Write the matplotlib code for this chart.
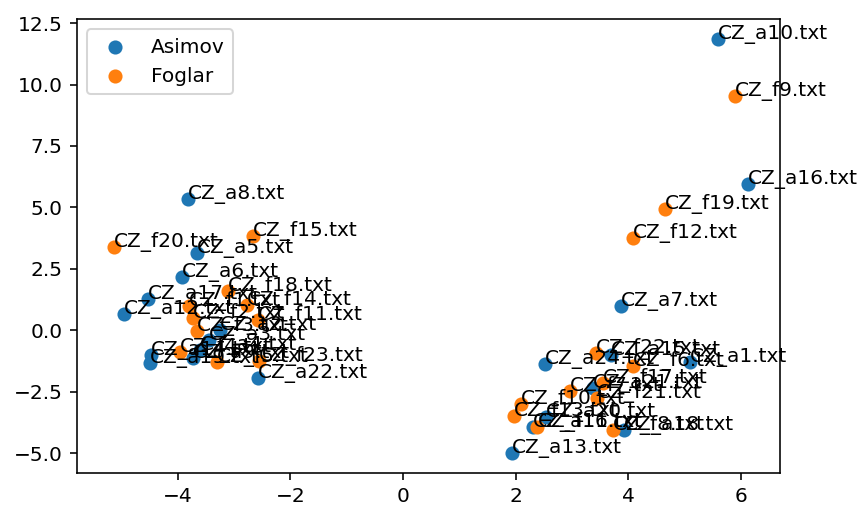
import matplotlib
matplotlib.use("Agg")
import matplotlib.pyplot as plt

# Asimov documents (blue)
asimov_labels = ["CZ_a1.txt", "CZ_a2.txt", "CZ_a3.txt", "CZ_a4.txt", "CZ_a5.txt",
                 "CZ_a6.txt", "CZ_a7.txt", "CZ_a8.txt", "CZ_a9.txt", "CZ_a10.txt",
                 "CZ_a11.txt", "CZ_a12.txt", "CZ_a13.txt", "CZ_a14.txt", "CZ_a15.txt",
                 "CZ_a16.txt", "CZ_a17.txt", "CZ_a18.txt", "CZ_a19.txt", "CZ_a20.txt",
                 "CZ_a21.txt", "CZ_a22.txt", "CZ_a24.txt"]
asimov_x = [5.090, -3.243, -3.438, -3.598, -3.656,
            -3.926, 3.864, -3.823, -3.722, 5.587,
            2.307, -4.945, 1.929, -4.466, 3.690,
            6.119, -4.520, 3.921, -4.484, 2.537,
            3.371, -2.578, 2.520]
asimov_y = [-1.289, 0.012, -0.394, -0.801, 3.154,
            2.187, 0.988, 5.325, -1.126, 11.84,
            -3.931, 0.663, -5.000, -1.004, -1.004,
            5.947, 1.272, -4.053, -1.341, -3.524,
            -2.346, -1.951, -1.370]

# Foglar documents (orange)
foglar_labels = ["CZ_f1.txt", "CZ_f2.txt", "CZ_f3.txt", "CZ_f4.txt", "CZ_f5.txt",
                 "CZ_f6.txt", "CZ_f7.txt", "CZ_f8.txt", "CZ_f9.txt", "CZ_f10.txt",
                 "CZ_f11.txt", "CZ_f12.txt", "CZ_f13.txt", "CZ_f14.txt", "CZ_f15.txt",
                 "CZ_f16.txt", "CZ_f17.txt", "CZ_f18.txt", "CZ_f19.txt", "CZ_f20.txt",
                 "CZ_f21.txt", "CZ_f22.txt", "CZ_f23.txt"]
foglar_x = [-3.805, -3.722, -3.656, -3.952, -3.301,
            4.085, 2.963, 3.725, 5.888, 2.094,
            -2.569, 4.080, 1.970, -2.764, -2.663,
            2.387, 3.548, -3.101, 4.647, -5.131,
            3.436, 3.424, -2.551]
foglar_y = [0.988, 0.500, -0.028, -0.870, -1.276,
            -1.451, -2.467, -4.053, 9.524, -3.016,
            0.419, 3.752, -3.484, 1.008, 3.833,
            -3.951, -2.142, 1.598, 4.931, 3.374,
            -2.752, -0.943, -1.248]

DPI = 145
fig = plt.figure(figsize=(865 / DPI, 507 / DPI), dpi=DPI)
ax = fig.add_axes([0.0887, 0.0665, 0.8130, 0.8952])

ax.scatter(asimov_x, asimov_y, color="C0", label="Asimov")
ax.scatter(foglar_x, foglar_y, color="C1", label="Foglar")

for lab, x, y in zip(asimov_labels, asimov_x, asimov_y):
    ax.annotate(lab, (x, y))
for lab, x, y in zip(foglar_labels, foglar_x, foglar_y):
    ax.annotate(lab, (x, y))

ax.set_xlim(-5.79, 6.69)
ax.set_ylim(-5.82, 12.65)
ax.set_xticks([-4, -2, 0, 2, 4, 6])
ax.set_yticks([-5.0, -2.5, 0.0, 2.5, 5.0, 7.5, 10.0, 12.5])
ax.legend(loc="upper left")

fig.savefig("out.png", dpi=DPI)
